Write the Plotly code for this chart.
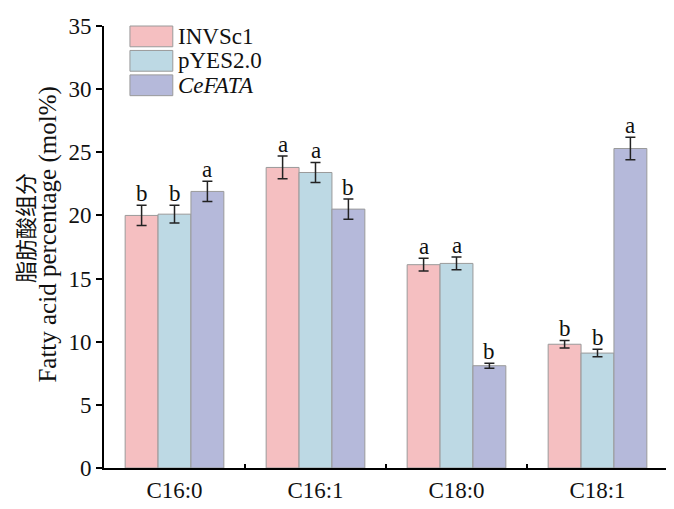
import plotly.graph_objects as go

categories = ["C16:0", "C16:1", "C18:0", "C18:1"]
series_names = ["INVSc1", "pYES2.0", "<i>CeFATA</i>"]
invsc1 = [20.0, 23.8, 16.1, 9.8]
pyes2 = [20.1, 23.4, 16.2, 9.1]
cefata = [21.9, 20.5, 8.1, 25.3]
invsc1_err = [0.8, 0.9, 0.5, 0.3]
pyes2_err = [0.7, 0.8, 0.5, 0.3]
cefata_err = [0.8, 0.8, 0.2, 0.9]
invsc1_sig = ["b", "a", "a", "b"]
pyes2_sig = ["b", "a", "a", "b"]
cefata_sig = ["a", "b", "b", "a"]
y_ticks = [0, 5, 10, 15, 20, 25, 30, 35]
y_title_cn = "脂肪酸组分"
y_title_en = "Fatty acid percentage (mol%)"

colors = ["#F5BFC1", "#BDD9E4", "#B5B9DA"]
values = [invsc1, pyes2, cefata]
errors = [invsc1_err, pyes2_err, cefata_err]
sigs = [invsc1_sig, pyes2_sig, cefata_sig]

FONT = "'Liberation Serif', 'Times New Roman', 'Noto Sans CJK SC', serif"
CNFONT = "'Noto Sans CJK SC', 'Noto Sans CJK JP', sans-serif"
FS = 23

fig = go.Figure()
for i in range(3):
    fig.add_trace(go.Bar(
        x=categories, y=values[i], name=series_names[i],
        marker=dict(color=colors[i], line=dict(color="#9a9a9a", width=1)),
        error_y=dict(type="data", array=errors[i], visible=True,
                     color="#222222", thickness=1.5, width=5),
        showlegend=False,
        offsetgroup=str(i),
    ))

# significance letters, placed above error bars using the bar's axis position
ncat = len(categories)
group_w = 0.7
bar_w = group_w / 3
for i in range(3):
    for j in range(ncat):
        xpos = j - group_w / 2 + bar_w * (i + 0.5)
        fig.add_annotation(
            x=xpos, y=values[i][j] + errors[i][j], xref="x", yref="y",
            text=sigs[i][j], showarrow=False, yanchor="bottom", yshift=-3,
            font=dict(family=FONT, size=FS, color="#111111"),
        )

# legend drawn in paper space
lx0, lx1 = 0.046, 0.122
ltop = 1.0
row_h = 0.0553
sw_h = 0.047
for i in range(3):
    y1 = ltop - i * row_h
    y0 = y1 - sw_h
    fig.add_shape(type="rect", xref="paper", yref="paper",
                  x0=lx0, x1=lx1, y0=y0, y1=y1,
                  fillcolor=colors[i], line=dict(color="#9a9a9a", width=1))
    fig.add_annotation(x=lx1 + 0.006, y=(y0 + y1) / 2, xref="paper", yref="paper",
                       text=series_names[i], showarrow=False, xanchor="left",
                       yanchor="middle",
                       font=dict(family=FONT, size=FS, color="#111111"))

# y-axis title (two lines)
fig.add_annotation(x=-0.1418, y=0.543, xref="paper", yref="paper",
                   text=y_title_cn, showarrow=False, textangle=-90,
                   xanchor="center", yanchor="middle",
                   font=dict(family=CNFONT, size=22, color="#111111"))
fig.add_annotation(x=-0.0993, y=0.528, xref="paper", yref="paper",
                   text=y_title_en, showarrow=False, textangle=-90,
                   xanchor="center", yanchor="middle",
                   font=dict(family=FONT, size=25, color="#111111"))

fig.update_layout(
    width=666, height=501,
    margin=dict(l=96, r=6, t=8, b=41),
    paper_bgcolor="white", plot_bgcolor="white",
    barmode="group", bargap=0.3, bargroupgap=0,
    font=dict(family=FONT, size=FS, color="#111111"),
    xaxis=dict(
        type="category", range=[-0.5, 3.5],
        showline=True, linecolor="black", linewidth=2,
        ticks="inside", tickson="boundaries", ticklen=4, tickwidth=2,
        tickcolor="black", showgrid=False,
        tickfont=dict(family=FONT, size=FS, color="#111111"),
    ),
    yaxis=dict(
        range=[0, 35], tickvals=y_ticks,
        showline=True, linecolor="black", linewidth=2,
        ticks="outside", ticklen=6, tickwidth=2, tickcolor="black",
        showgrid=False, zeroline=False, ticklabeloverflow="allow",
        tickfont=dict(family=FONT, size=FS, color="#111111"),
    ),
)

fig.write_html("out.html")
